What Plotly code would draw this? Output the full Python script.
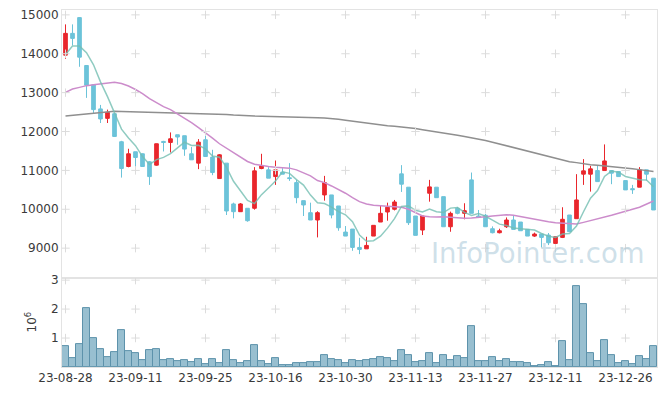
import pandas as pd
import plotly.graph_objects as go
from plotly.subplots import make_subplots

# ---- trading dates (KRX, 2023-08-28 .. 2024-01-03) ----
holidays = ["2023-09-28", "2023-09-29", "2023-10-02", "2023-10-03", "2023-10-09",
            "2023-12-25", "2023-12-29", "2024-01-01"]
days = [d for d in pd.bdate_range("2023-08-28", "2024-01-03") if d.strftime("%Y-%m-%d") not in holidays]
dates = [d.strftime("%y-%m-%d") for d in days]

open_ = [13964, 14524, 14929, 13698, 13200, 12581, 12338, 12457, 11737, 11100,
         11479, 11427, 11221, 11135, 11745, 11719, 11917, 11892, 11427, 11187,
         11788, 11342, 10790, 11187, 10137, 9938, 10026, 10026, 11048, 11014,
         10841, 10955, 10810, 10686, 10222, 9912, 9724, 10369, 10369, 10085,
         9414, 9491, 9019, 8983, 9311, 9672, 9930, 10000, 10911, 10568,
         9827, 9466, 10413, 10568, 10325, 9551, 10026, 9896, 10756, 9827,
         9845, 9500, 9397, 9551, 9724, 9672, 9483, 9311, 9363, 9337,
         9122, 9277, 9853, 9758, 10903, 10903, 10996, 10996, 10996, 10970,
         10738, 10530, 10568, 11014, 10800]
high = [14755, 14755, 14940, 13698, 13200, 12684, 12563, 12457, 11760, 11556,
        11479, 11440, 11240, 11690, 11760, 11977, 11917, 11892, 11600, 11805,
        11892, 11530, 11420, 11187, 10170, 10160, 10026, 11084, 11427, 11084,
        11254, 11058, 11187, 10756, 10222, 10170, 9950, 10859, 10369, 10085,
        9569, 9491, 9267, 9293, 9587, 10085, 10170, 10240, 11135, 10568,
        9827, 9827, 10756, 10568, 10325, 9940, 10060, 10155, 10945, 9982,
        9880, 9560, 9500, 9790, 9845, 9672, 9483, 9400, 9363, 9390,
        9293, 10052, 9853, 10903, 11290, 11118, 11118, 11668, 10996, 10970,
        10738, 10627, 11084, 11014, 10800]
low = [13871, 14214, 13665, 12865, 12477, 12219, 12219, 11858, 10815, 11080,
       10996, 11090, 10627, 11120, 11487, 11461, 11659, 11375, 11272, 11032,
       11357, 10877, 10790, 9853, 9767, 9930, 9680, 9990, 11030, 10800,
       10627, 10903, 10730, 10155, 9827, 9724, 9277, 10222, 9767, 9448,
       9311, 8932, 8847, 8983, 9311, 9672, 9706, 9970, 10446, 9595,
       9329, 9337, 10196, 10299, 9551, 9422, 9870, 9742, 9896, 9780,
       9551, 9380, 9380, 9520, 9483, 9448, 9311, 9290, 9019, 9079,
       9122, 9260, 9422, 9758, 10627, 10454, 10712, 10996, 10645, 10841,
       10498, 10395, 10568, 10740, 9982]
close = [14524, 14395, 13912, 13190, 12563, 12323, 12494, 11873, 11048, 11427,
         11332, 11100, 10841, 11685, 11719, 11813, 11858, 11548, 11272, 11727,
         11357, 10945, 11401, 9956, 9938, 10137, 9706, 10988, 11115, 10800,
         11014, 10903, 10790, 10299, 10111, 9724, 9912, 10686, 9853, 9525,
         9311, 9019, 8968, 9071, 9587, 9896, 10052, 10188, 10645, 9655,
         9329, 9827, 10576, 10299, 9551, 9896, 9896, 9964, 9896, 9800,
         9551, 9397, 9448, 9724, 9483, 9448, 9311, 9363, 9277, 9139,
         9293, 9742, 9422, 10240, 10988, 11040, 10712, 11243, 10929, 10841,
         10498, 10505, 11014, 10903, 9982]
volume = [710000, 300000, 780000, 2020000, 990000, 610000, 330000, 510000, 1270000, 550000,
          470000, 240000, 580000, 610000, 240000, 260000, 210000, 240000, 170000, 260000,
          90000, 260000, 140000, 580000, 240000, 130000, 200000, 750000, 200000, 90000,
          300000, 80000, 50000, 130000, 130000, 160000, 160000, 400000, 260000, 230000,
          130000, 230000, 200000, 230000, 260000, 330000, 300000, 200000, 580000, 400000,
          160000, 200000, 470000, 130000, 400000, 240000, 370000, 300000, 1400000, 200000,
          200000, 330000, 200000, 260000, 160000, 160000, 130000, 30000, 60000, 160000,
          30000, 890000, 240000, 2790000, 2170000, 470000, 200000, 920000, 400000, 130000,
          200000, 90000, 370000, 260000, 710000]
# first four MA5 values (need pre-period closes)
ma5_head = [13980, 14196, 14196, 14026]
ma20 = [13006, 13092, 13135, 13180, 13200, 13226, 13252, 13265, 13234, 13170,
        13080, 12976, 12844, 12743, 12640, 12563, 12457, 12343, 12228, 12099,
        11970, 11830, 11685, 11570, 11460, 11357, 11229, 11158, 11124, 11100,
        11083, 11075, 11058, 11014, 10945, 10860, 10738, 10686, 10600, 10516,
        10413, 10299, 10196, 10137, 10103, 10094, 10085, 10068, 10052, 10000,
        9912, 9827, 9810, 9800, 9810, 9793, 9785, 9767, 9775, 9785,
        9810, 9827, 9845, 9862, 9845, 9810, 9767, 9742, 9706, 9680,
        9655, 9638, 9620, 9620, 9663, 9706, 9742, 9793, 9845, 9896,
        9938, 10000, 10052, 10137, 10214]
ma120 = [12398, 12415, 12435, 12465, 12480, 12495, 12510, 12520, 12515, 12510,
         12502, 12495, 12490, 12487, 12485, 12480, 12476, 12472, 12470, 12468,
         12465, 12455, 12450, 12440, 12425, 12410, 12403, 12398, 12395, 12392,
         12390, 12386, 12382, 12378, 12374, 12365, 12355, 12345, 12335, 12315,
         12290, 12265, 12245, 12220, 12195, 12170, 12150, 12135, 12120, 12100,
         12075, 12045, 12020, 11995, 11970, 11940, 11905, 11870, 11840, 11810,
         11770, 11725, 11680, 11630, 11585, 11540, 11495, 11450, 11400, 11355,
         11310, 11265, 11225, 11200, 11170, 11145, 11130, 11115, 11100, 11085,
         11070, 11045, 11020, 10995, 10970]

price_ticks = [9000, 10000, 11000, 12000, 13000, 14000, 15000]
vol_ticks = [1, 2, 3]
xtick_idx = list(range(0, 81, 10))

ma5 = pd.Series(close, dtype=float).rolling(5).mean().tolist()
ma5[:4] = ma5_head

RED = "#e9262c"
BLUE = "#6cc3d9"
GRID = "#dcdcdc"
FONT = dict(family="DejaVu Sans", size=12, color="#3a3a3a")

fig = make_subplots(rows=2, cols=1, shared_xaxes=True, vertical_spacing=0,
                    row_heights=[0.751, 0.249])

fig.add_trace(go.Scatter(x=dates, y=ma120, mode="lines", hoverinfo="skip",
                         line=dict(color="#8f8f8f", width=1.5)), row=1, col=1)
fig.add_trace(go.Scatter(x=dates, y=ma20, mode="lines", hoverinfo="skip",
                         line=dict(color="#cc8ccb", width=1.5)), row=1, col=1)

fig.add_trace(go.Candlestick(x=dates, open=open_, high=high, low=low, close=close,
                             increasing=dict(fillcolor=RED, line=dict(color=RED, width=1)),
                             decreasing=dict(fillcolor=BLUE, line=dict(color=BLUE, width=1)),
                             hoverinfo="skip"), row=1, col=1)
fig.add_trace(go.Scatter(x=dates, y=ma5, mode="lines", hoverinfo="skip",
                         line=dict(color="rgba(115,190,178,0.8)", width=1.5)), row=1, col=1)

fig.add_trace(go.Bar(x=dates, y=[v / 1e6 for v in volume], hoverinfo="skip",
                     marker=dict(color="#98bfd0", line=dict(color="#5d92ab", width=1))),
              row=2, col=1)

# grid crosses at tick intersections
gx = [dates[i] for i in xtick_idx]
fig.add_trace(go.Scatter(x=[x for x in gx for _ in price_ticks], y=price_ticks * len(gx),
                         mode="markers", hoverinfo="skip",
                         marker=dict(symbol="cross-thin", size=6, line=dict(width=1, color=GRID))),
              row=1, col=1)
fig.add_trace(go.Scatter(x=[x for x in gx for _ in vol_ticks], y=vol_ticks * len(gx),
                         mode="markers", hoverinfo="skip",
                         marker=dict(symbol="cross-thin", size=6, line=dict(width=1, color=GRID))),
              row=2, col=1)

fig.update_layout(
    width=665, height=396,
    margin=dict(l=62, r=8, t=10, b=29, autoexpand=False),
    paper_bgcolor="white", plot_bgcolor="white",
    showlegend=False, bargap=0, boxgap=0.25,
    font=FONT,
    annotations=[
        dict(text="InfoPointer.com", xref="paper", yref="paper",
             x=0.984, y=0.32, xanchor="right", yanchor="middle", showarrow=False,
             font=dict(family="DejaVu Sans", size=27.5, color="rgba(165,198,214,0.55)")),
        dict(text="10<sup>6</sup>", xref="paper", yref="paper",
             x=-0.052, y=0.125, xanchor="center", yanchor="middle", showarrow=False,
             textangle=-90, font=FONT),
    ],
)
axis_common = dict(showline=True, linecolor="#e3e3e3", linewidth=1, mirror=True,
                   showgrid=False, zeroline=False, ticks="", automargin=False)
fig.update_xaxes(type="category", categoryorder="array", categoryarray=dates,
                 range=[-0.5, len(dates) - 0.5],
                 rangeslider=dict(visible=False),
                 tickvals=[dates[i] for i in xtick_idx], tickangle=0, **axis_common)
fig.update_xaxes(showticklabels=False, row=1, col=1)
fig.update_xaxes(showticklabels=True, tickfont=FONT, row=2, col=1)
fig.update_yaxes(range=[8230, 15125], tickvals=price_ticks, tickformat="d", tickfont=FONT,
                 **axis_common, row=1, col=1)
fig.update_yaxes(range=[0, 3.07], tickvals=vol_ticks, tickformat="d", tickfont=FONT,
                 **axis_common, row=2, col=1)

fig.write_html("out.html", config={"displayModeBar": False},
               post_script="document.body.style.margin='0';document.body.style.padding='0';"
                           "document.documentElement.style.overflow='hidden';")
